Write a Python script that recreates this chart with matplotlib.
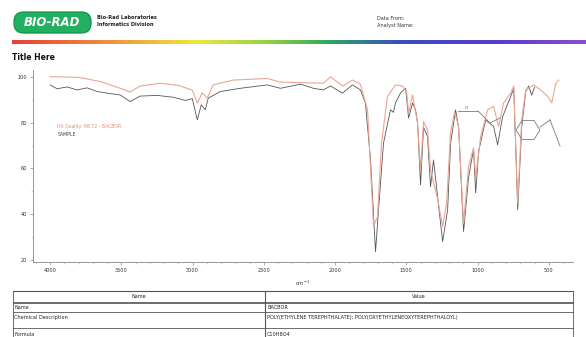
import matplotlib
matplotlib.use("Agg")
import matplotlib.pyplot as plt
from matplotlib.colors import LinearSegmentedColormap
from matplotlib.patches import FancyBboxPatch, Polygon
from matplotlib.lines import Line2D
from matplotlib.ticker import MultipleLocator
import numpy as np

# ---------------- data ----------------
sample_wn = [4000, 3951, 3881, 3810, 3740, 3670, 3600, 3508, 3438, 3368, 3248, 3136, 3051, 3002,
             2967, 2939, 2911, 2890, 2805, 2665, 2475, 2384, 2243, 2152, 2082, 2032, 1948, 1878,
             1822, 1787, 1751, 1716, 1695, 1660, 1611, 1590, 1576, 1540, 1505, 1484, 1456, 1435,
             1421, 1400, 1379, 1351, 1330, 1309, 1245, 1210, 1189, 1154, 1133, 1098, 1063, 1028,
             1013, 992, 943, 887, 859, 824, 767, 746, 718, 690, 662, 641, 620, 600]
sample_t = [96.5, 94.8, 95.6, 94.3, 95.2, 93.6, 92.9, 92.1, 89.2, 91.6, 91.9, 91.1, 89.7, 90.5,
            81.2, 87.8, 85.6, 90.7, 93.6, 95.0, 96.5, 95.0, 96.8, 95.0, 94.3, 96.0, 92.9, 96.5,
            94.3, 88.6, 63.7, 23.6, 41.9, 71.0, 85.6, 84.5, 88.6, 93.0, 95.0, 82.0, 88.6, 85.6,
            80.0, 52.8, 78.0, 73.9, 52.0, 63.7, 28.0, 41.9, 71.0, 85.6, 78.0, 32.4, 56.1, 68.3,
            49.3, 67.6, 81.2, 78.3, 70.3, 82.6, 91.4, 95.0, 41.9, 78.0, 93.6, 96.0, 92.0, 95.5]

library_wn = [4000, 3800, 3649, 3508, 3438, 3368, 3227, 3100, 3002, 2967, 2932, 2897, 2855, 2714,
              2475, 2384, 2082, 2032, 1948, 1878, 1822, 1772, 1730, 1702, 1674, 1632, 1576, 1526,
              1498, 1484, 1456, 1421, 1400, 1379, 1351, 1330, 1280, 1245, 1217, 1189, 1161, 1133,
              1098, 1063, 1028, 1013, 978, 929, 887, 852, 817, 767, 746, 718, 690, 662, 606, 557,
              507, 479, 451, 430]
library_t = [100.1, 99.8, 98.0, 95.0, 93.4, 96.0, 97.2, 96.3, 94.2, 88.6, 93.0, 90.7, 96.5, 98.6,
             99.3, 97.7, 97.2, 100.0, 96.0, 98.6, 96.8, 85.6, 34.6, 38.9, 71.0, 91.4, 96.5, 96.0,
             93.6, 84.0, 92.1, 79.7, 59.3, 80.5, 76.8, 59.3, 46.6, 34.6, 45.0, 76.0, 84.7, 78.3,
             36.0, 60.8, 69.0, 56.1, 73.9, 85.6, 87.1, 78.3, 88.6, 93.0, 96.0, 44.8, 81.2, 94.3,
             96.5, 94.3, 91.4, 88.6, 97.2, 98.6]

x_ticks = [4000, 3500, 3000, 2500, 2000, 1500, 1000, 500]
y_ticks = [100, 80, 60, 40, 20]

legend_labels = ["Hit Quality: 98.72 - BACBOR", "SAMPLE"]
table_header = ["Name", "Value"]
table_names = ["Name", "Chemical Description", "Formula"]
table_values = ["BACBOR", "POLY(ETHYLENE TEREPHTHALATE); POLY(OXYETHYLENEOXYTEREPHTHALOYL)", "C10H8O4"]

# ---------------- figure ----------------
W, H = 586, 337
fig = plt.figure(figsize=(W / 100, H / 100), dpi=100)
fig.patch.set_facecolor("white")

def fx(x):
    return x / W

def fy(y):
    return 1 - y / H

FONT = "DejaVu Sans"

# logo (pill shape, drawn in inches)
logo = FancyBboxPatch((0.14, (H - 33) / 100), 0.77, 0.21,
                      boxstyle="round,pad=0,rounding_size=0.095",
                      transform=fig.dpi_scale_trans, facecolor="#22b060",
                      edgecolor="#17914e", linewidth=0.9)
fig.patches.append(logo)
fig.text(fx(52), fy(22.5), "BIO-RAD", color="white", fontsize=8.5, fontweight="bold",
         fontstyle="italic", ha="center", va="center", family=FONT)

fig.text(fx(97), fy(17.5), "Bio-Rad Laboratories", fontsize=3.6, fontweight="bold",
         ha="left", va="center", color="#222222")
fig.text(fx(97), fy(24.5), "Informatics Division", fontsize=3.6, fontweight="bold",
         ha="left", va="center", color="#222222")
fig.text(fx(377), fy(19), "Data From:", fontsize=3.6, ha="left", va="center", color="#333333")
fig.text(fx(377), fy(26), "Analyst Name:", fontsize=3.6, ha="left", va="center", color="#333333")

# rainbow bar
cmap = LinearSegmentedColormap.from_list(
    "rb", [(0.0, "#e8403a"), (0.15, "#f0873a"), (0.32, "#eee83c"), (0.45, "#8fd046"),
           (0.55, "#2fa860"), (0.68, "#3a4cc0"), (0.85, "#5a3ccc"), (1.0, "#8a4ed0")])
axb = fig.add_axes([fx(12), fy(44.5), fx(574), 4.5 / H])
axb.imshow(np.linspace(0, 1, 400)[None, :], aspect="auto", cmap=cmap)
axb.axis("off")

fig.text(fx(12), fy(57), "Title Here", fontsize=5.5, fontweight="bold", ha="left",
         va="center", color="#111111")

# main axes
ax = fig.add_axes([fx(33), fy(262), fx(540), (262 - 70) / H])
ax.plot(library_wn, library_t, color="#eba595", lw=0.8, zorder=3)
ax.plot(sample_wn, sample_t, color="#555555", lw=0.6, zorder=2)
ax.set_xlim(4120, 330)
ax.set_ylim(19.1, 103.0)
ax.set_xticks(x_ticks)
ax.set_xticklabels([str(v) for v in x_ticks])
ax.set_yticks(y_ticks)
ax.set_yticklabels([str(v) for v in y_ticks])
ax.xaxis.set_minor_locator(MultipleLocator(100))
ax.yaxis.set_minor_locator(MultipleLocator(10))
for s in ["top", "right"]:
    ax.spines[s].set_visible(False)
for s in ["left", "bottom"]:
    ax.spines[s].set_color("#888888")
    ax.spines[s].set_linewidth(0.6)
ax.tick_params(axis="both", which="major", labelsize=3.6, length=2.5, width=0.5,
               color="#888888", pad=2, labelcolor="#333333")
ax.tick_params(axis="both", which="minor", length=1.5, width=0.4, color="#aaaaaa")
ax.set_xlabel("cm$^{-1}$", fontsize=3.8, labelpad=4, color="#333333")
ax.patch.set_alpha(0)

# legend texts
ax.text(0.045, 0.705, legend_labels[0], transform=ax.transAxes, fontsize=3.3,
        color="#e88a70", ha="left", va="center")
ax.text(0.045, 0.665, legend_labels[1], transform=ax.transAxes, fontsize=3.3,
        color="#444444", ha="left", va="center")

# chemical structure sketch (decoration)
sc = "#8a8a8a"
for (x0, y0, x1, y1) in [(458, 111, 478, 111), (478, 111, 490, 123), (490, 123, 500, 118),
                         (540, 127, 550, 120), (550, 120, 560, 146)]:
    fig.add_artist(Line2D([fx(x0), fx(x1)], [fy(y0), fy(y1)], color=sc, lw=0.7,
                          transform=fig.transFigure))
ang = np.deg2rad(np.arange(0, 360, 60) + 0)
hx = [fx(528 + 12 * np.cos(a)) for a in ang]
hy = [fy(130 + 11 * np.sin(a)) for a in ang]
fig.add_artist(Polygon(list(zip(hx, hy)), closed=True, fill=False, edgecolor=sc, lw=0.7,
                       transform=fig.transFigure))
fig.text(fx(466), fy(107.5), "O", fontsize=3, color="#555555", ha="center", va="center")

# table
tc = "#555555"
def hline(y, x0=13, x1=573, lw=0.6):
    fig.add_artist(Line2D([fx(x0), fx(x1)], [fy(y), fy(y)], color=tc, lw=lw,
                          transform=fig.transFigure))
def vline(x, y0, y1, lw=0.6):
    fig.add_artist(Line2D([fx(x), fx(x)], [fy(y0), fy(y1)], color=tc, lw=lw,
                          transform=fig.transFigure))

hline(291, lw=0.8)
hline(301.5)
hline(303)
hline(312)
hline(327.5)
vline(13, 291, 340)
vline(573, 291, 340)
vline(265, 291, 340, lw=0.8)

fig.text(fx(139), fy(296.5), table_header[0], fontsize=3.6, ha="center", va="center", color="#222222")
fig.text(fx(419), fy(296.5), table_header[1], fontsize=3.6, ha="center", va="center", color="#222222")
row_y = [307.5, 318, 335]
for name, val, yy in zip(table_names, table_values, row_y):
    fig.text(fx(14.5), fy(yy), name, fontsize=3.6, ha="left", va="center", color="#222222")
    fig.text(fx(267), fy(yy), val, fontsize=3.6, ha="left", va="center", color="#222222")

fig.savefig("out.png", dpi=100)
